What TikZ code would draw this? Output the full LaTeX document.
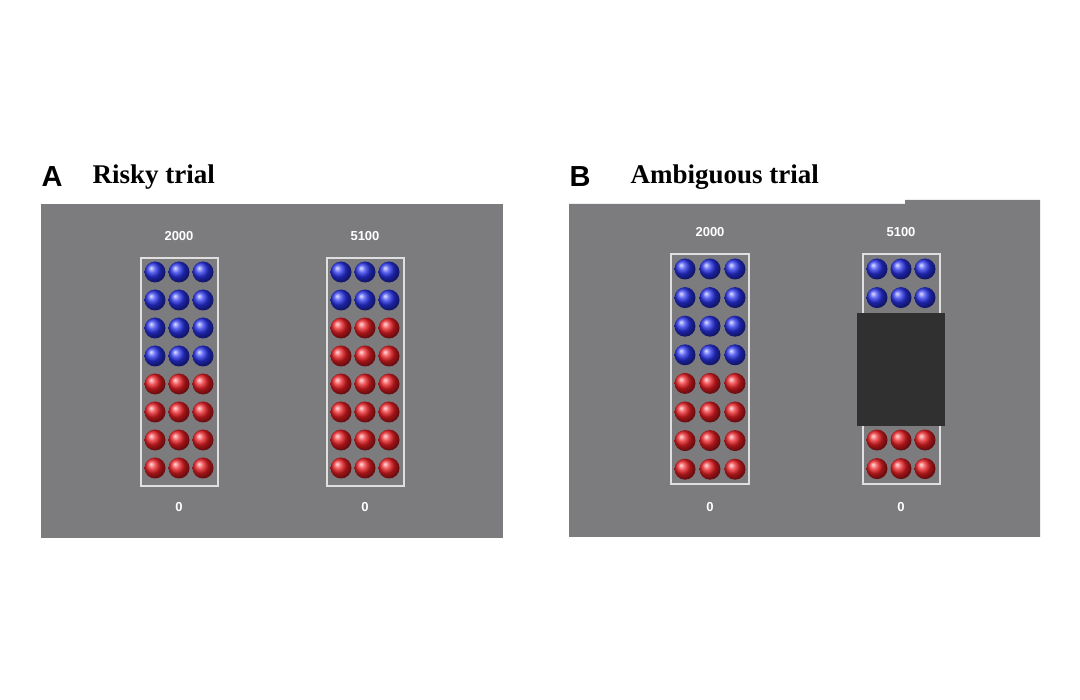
\documentclass[tikz,border=0pt]{standalone}
\usepackage{fontspec}
\setmainfont{Liberation Serif}
\newfontfamily\sansf{Liberation Sans}
\begin{document}
\begin{tikzpicture}[x=1pt,y=-1pt,
  panel/.style={fill=panelgray,draw=none},
  urn/.style={draw=gray!25,line width=1.2pt},
  num/.style={font=\sansf\bfseries\fontsize{13}{14}\selectfont,text=white},
  title/.style={font=\bfseries\fontsize{27}{30}\selectfont,anchor=base west},
  letter/.style={font=\sansf\bfseries\fontsize{29}{32}\selectfont,anchor=base west},
  bb/.style={ball color=ballblue,shading=ball},
  rb/.style={ball color=ballred,shading=ball}]
\definecolor{panelgray}{RGB}{124,123,126}
\definecolor{coverdark}{RGB}{48,48,48}
\definecolor{ballblue}{RGB}{40,50,235}
\definecolor{ballred}{RGB}{235,30,35}
\useasboundingbox (0,0) rectangle (1080,700);
% Panel A
\node[letter] (la) at (38,187) {A};
\node[title] (ta) at (89,184) {Risky trial};
\fill[panel] (41,204) rectangle (503,538);
\node[num] (a1) at (179,236) {2000};
\node[num] (a2) at (365,236) {5100};
\node[num] (a3) at (179,507) {0};
\node[num] (a4) at (365,507) {0};
\draw[urn] (141,258) rectangle (218,486);
\draw[urn] (327,258) rectangle (404,486);
\foreach \r in {0,...,7}{
  \foreach \c in {0,1,2}{
    \pgfmathsetmacro\yy{272+28*\r}
    \ifnum\r<4 \shade[bb] (155+24*\c,\yy) circle (10.5);
    \else \shade[rb] (155+24*\c,\yy) circle (10.5); \fi
    \ifnum\r<2 \shade[bb] (341+24*\c,\yy) circle (10.5);
    \else \shade[rb] (341+24*\c,\yy) circle (10.5); \fi
  }}
% Panel B
\node[letter] (lb) at (566,187) {B};
\node[title] (tb) at (627,184) {Ambiguous trial};
\fill[panel] (569,204) -- (905,204) -- (905,200) -- (1040,200) -- (1040,537) -- (569,537) -- cycle;
\node[num] (b1) at (710,232) {2000};
\node[num] (b2) at (901,232) {5100};
\node[num] (b3) at (710,507) {0};
\node[num] (b4) at (901,507) {0};
\draw[urn] (671,254) rectangle (749,484);
\draw[urn] (863,254) rectangle (940,484);
\foreach \r in {0,...,7}{
  \foreach \c in {0,1,2}{
    \pgfmathsetmacro\yy{269+28.6*\r}
    \ifnum\r<4 \shade[bb] (685+25*\c,\yy) circle (10.5);
    \else \shade[rb] (685+25*\c,\yy) circle (10.5); \fi
  }}
\foreach \c in {0,1,2}{
  \shade[bb] (877+24*\c,269) circle (10.5);
  \shade[bb] (877+24*\c,297.6) circle (10.5);
  \shade[rb] (877+24*\c,440) circle (10.5);
  \shade[rb] (877+24*\c,468.6) circle (10.5);
}
\fill[coverdark] (857,313) rectangle (945,426);
\end{tikzpicture}
\end{document}
